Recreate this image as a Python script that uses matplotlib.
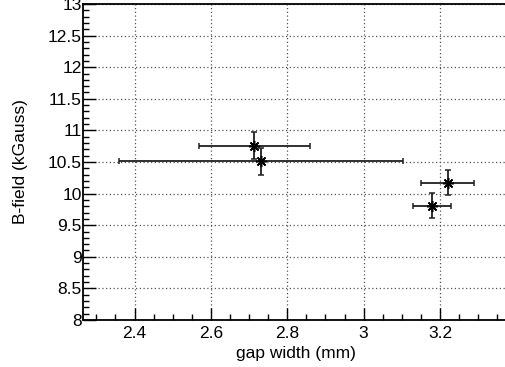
import matplotlib
matplotlib.use('Agg')
import matplotlib.pyplot as plt
from matplotlib.ticker import MultipleLocator, FormatStrFormatter

# gap width (mm) vs B-field (kGauss)
gap = [2.714, 2.730, 3.179, 3.220]
gap_err = [0.145, 0.372, 0.050, 0.070]
bfield = [10.76, 10.51, 9.81, 10.17]
bfield_err = [0.22, 0.21, 0.20, 0.20]

plt.rcParams['font.family'] = ['Liberation Sans', 'DejaVu Sans']

fig = plt.figure(figsize=(5.06, 3.67), dpi=100)
ax = fig.add_axes([83 / 506, 47 / 367, 425 / 506, 316 / 367])

ax.errorbar(gap, bfield, xerr=gap_err, yerr=bfield_err, fmt='none',
            ecolor='#202020', elinewidth=1.3, capsize=2.5, capthick=1.1)
ax.plot(gap, bfield, ls='none', marker=(8, 2, 0), ms=8, mew=1.1, color='black')

ax.set_xlim(2.265, 3.378)
ax.set_ylim(8, 13)

ax.xaxis.set_major_locator(MultipleLocator(0.2))
ax.xaxis.set_minor_locator(MultipleLocator(0.05))
ax.yaxis.set_major_locator(MultipleLocator(0.5))
ax.yaxis.set_minor_locator(MultipleLocator(0.1))
ax.xaxis.set_major_formatter(FormatStrFormatter('%g'))
ax.yaxis.set_major_formatter(FormatStrFormatter('%g'))

ax.tick_params(which='both', direction='in', top=False, right=False, labelsize=12.5, width=1)
ax.tick_params(which='major', length=9)
ax.tick_params(which='minor', length=4.5)
ax.tick_params(axis='y', pad=1)
ax.tick_params(axis='x', pad=4)

for s in ax.spines.values():
    s.set_linewidth(1.3)

ax.grid(True, which='major', ls=(0, (1, 2)), color='#555555', lw=0.9)
ax.set_axisbelow(True)

ax.set_xlabel('gap width (mm)', fontsize=12.5, labelpad=4)
ax.set_ylabel('B-field (kGauss)', fontsize=12.5, labelpad=14)

plt.savefig('out.png', dpi=100)
